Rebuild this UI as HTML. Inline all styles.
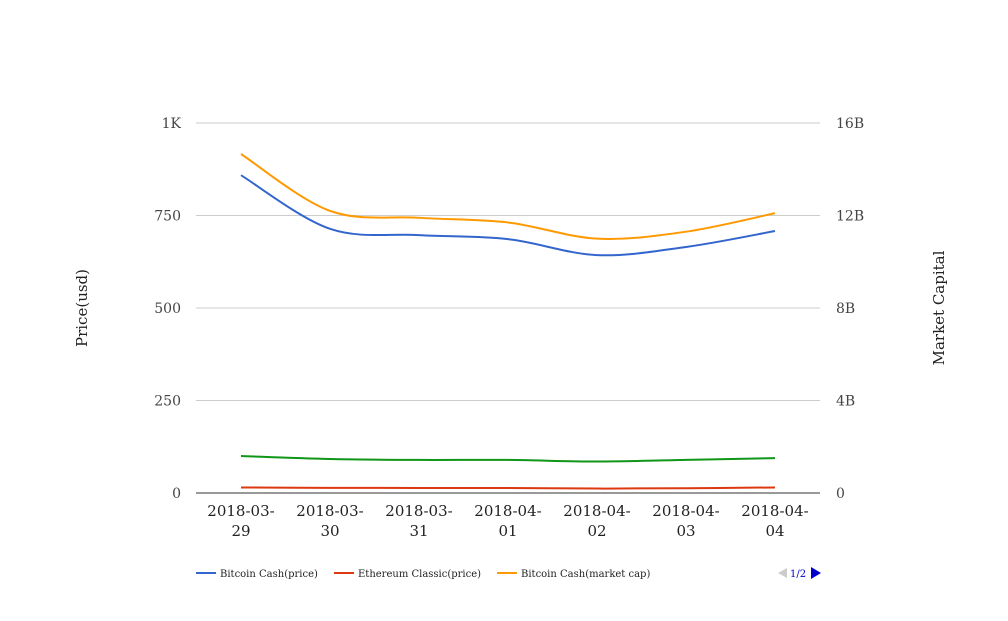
<!DOCTYPE html>
<html><head><meta charset="utf-8"><style>
body{margin:0;background:#fff;}
svg text{font-family:"DejaVu Serif","Liberation Serif",serif;}
</style></head><body>
<svg id="chart" width="1008" height="616" xmlns="http://www.w3.org/2000/svg">
<g id="grid"></g><g id="series"></g><g id="labels"></g><g id="legend"></g>
</svg>
<script>
const categories=["2018-03-29","2018-03-30","2018-03-31","2018-04-01","2018-04-02","2018-04-03","2018-04-04"];
const bchPrice=[859,714,697,686,643,665,708];
const etcPrice=[15,14,13.5,13.5,12,13,15];
const bchCap=[14.66,12.2,11.9,11.7,11.0,11.3,12.1];
const etcCap=[1.6,1.47,1.43,1.43,1.36,1.43,1.51];
const leftTicks=[0,250,500,750,1000];
const leftTickLabels=["0","250","500","750","1K"];
const rightTicks=[0,4,8,12,16];
const rightTickLabels=["0","4B","8B","12B","16B"];
const NS="http://www.w3.org/2000/svg";
const x0=241,xStep=89,yBase=493,yTop=123;
const xPos=i=>x0+i*xStep;
const yL=v=>yBase-(v/1000)*(yBase-yTop);
const yR=v=>yBase-(v/16)*(yBase-yTop);
function mk(tag,attrs,parent){const e=document.createElementNS(NS,tag);for(const k in attrs)e.setAttribute(k,attrs[k]);parent.appendChild(e);return e;}
const grid=document.getElementById('grid'),series=document.getElementById('series'),labels=document.getElementById('labels'),legend=document.getElementById('legend');
leftTicks.forEach((t,i)=>{
  if(i>0){const l=mk('line',{x1:196,x2:820,y1:yL(t),y2:yL(t),stroke:'#cccccc','stroke-width':1},grid);
  
  }
  const tx=mk('text',{x:181,y:yL(t)+5,'text-anchor':'end','font-size':14,fill:'#444'},labels);tx.textContent=leftTickLabels[i];
  
  
});
rightTicks.forEach((t,i)=>{
  const tx=mk('text',{x:836,y:yR(t)+5,'font-size':14,fill:'#444'},labels);tx.textContent=rightTickLabels[i];
  
  
});
categories.forEach((c,i)=>{
  const p=c.split('-');
  const t1=mk('text',{x:xPos(i),y:516,'text-anchor':'middle','font-size':15,fill:'#222'},labels);t1.textContent=p[0]+'-'+p[1]+'-';
  
  
  const t2=mk('text',{x:xPos(i),y:536,'text-anchor':'middle','font-size':15,fill:'#222'},labels);t2.textContent=p[2];
  
  
});
function smooth(pts){let d=`M${pts[0][0]},${pts[0][1]}`;for(let i=0;i<pts.length-1;i++){const p0=pts[i-1]||pts[i],p1=pts[i],p2=pts[i+1],p3=pts[i+2]||p2;const c1=[p1[0]+(p2[0]-p0[0])/6,p1[1]+(p2[1]-p0[1])/6],c2=[p2[0]-(p3[0]-p1[0])/6,p2[1]-(p3[1]-p1[1])/6];d+=` C${c1[0]},${c1[1]} ${c2[0]},${c2[1]} ${p2[0]},${p2[1]}`;}return d;}
function line(vals,yf,color,name){const p=mk('path',{d:smooth(vals.map((v,i)=>[xPos(i),yf(v)])),fill:'none',stroke:color,'stroke-width':2},series);
  
  }
line(etcCap,yR,'#109618','etc-market-cap-line');
line(etcPrice,yL,'#dc3912','etc-price-line');
line(bchCap,yR,'#ff9900','bch-market-cap-line');
line(bchPrice,yL,'#3366cc','bch-price-line');
const ax=mk('line',{x1:196,x2:820,y1:yBase,y2:yBase,stroke:'#333','stroke-width':1},grid);


const yt=mk('text',{x:0,y:0,transform:'translate(87,308) rotate(-90)','text-anchor':'middle','font-size':15,fill:'#222'},labels);yt.textContent='Price(usd)';


const yt2=mk('text',{x:0,y:0,transform:'translate(944,308) rotate(-90)','text-anchor':'middle','font-size':15,fill:'#222'},labels);yt2.textContent='Market Capital';


[["Bitcoin Cash(price)","#3366cc",196],["Ethereum Classic(price)","#dc3912",334],["Bitcoin Cash(market cap)","#ff9900",497]].forEach(e=>{
  const g=mk('g',{},legend);
  
  
  mk('line',{x1:e[2],x2:e[2]+20,y1:573,y2:573,stroke:e[1],'stroke-width':2},g);
  const t=mk('text',{x:e[2]+24,y:577,'font-size':10,fill:'#222'},g);t.textContent=e[0];
});
const pg=mk('g',{},legend);


mk('polygon',{points:'778,573 787,568 787,578',fill:'#ccc'},pg);
const pt=mk('text',{x:790,y:577,'font-size':10,fill:'#0000cc'},pg);pt.textContent='1/2';
mk('polygon',{points:'821,573 811,567 811,579',fill:'#0000cc'},pg);
</script>
</body></html>
